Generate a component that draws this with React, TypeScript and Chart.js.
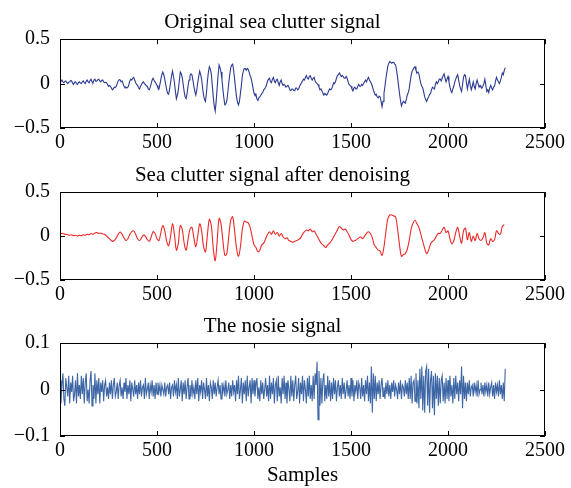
import React, { useEffect, useRef } from "react";
import { Chart, registerables } from "chart.js";

Chart.register(...registerables);

const X_TICKS_MAX = 2500;

const TITLES = [
  "Original sea clutter signal",
  "Sea clutter signal after denoising",
  "The nosie signal",
];
const X_AXIS_LABEL = "Samples";

// original signal, one value every 5 samples
const ORIGINAL = [
  0.02, 0.035, 0.04, 0.02, 0.01, 0.025, 0.03, 0.01, 0.0, 0.015, 0.02, 0.035, 0.03, 0.005, -0.01, 0.015, 0.02, 0.0, -0.01, 0.01,
  0.02, 0.005, 0.0, 0.02, 0.03, 0.01, 0.0, 0.025, 0.04, 0.02, 0.01, 0.035, 0.05, 0.02, 0.01, 0.04, 0.05, 0.025, 0.03, 0.045,
  0.05, 0.03, 0.02, 0.035, 0.04, 0.02, 0.01, 0.015, 0.01, -0.01, -0.03, -0.02, -0.03, -0.05, -0.07, -0.06, -0.04, -0.045, -0.03, 0.0,
  0.03, 0.045, 0.04, 0.02, 0.03, 0.0, -0.03, -0.045, -0.04, -0.05, -0.04, -0.01, 0.03, 0.05, 0.04, 0.06, 0.07, 0.04, 0.01, -0.01,
  -0.02, -0.05, -0.06, -0.03, -0.01, 0.01, 0.02, 0.0, -0.01, -0.025, -0.03, -0.06, -0.07, -0.04, 0.0, 0.04, 0.06, 0.035, 0.02, 0.0,
  -0.02, -0.05, -0.06, -0.01, 0.05, 0.1, 0.13, 0.1, 0.05, -0.01, -0.07, -0.11, -0.12, -0.06, 0.01, 0.09, 0.14, 0.08, 0.01, -0.09,
  -0.17, -0.13, -0.07, 0.03, 0.13, 0.11, 0.07, -0.01, -0.09, -0.15, -0.17, -0.11, -0.03, 0.04, 0.09, 0.11, 0.1, 0.04, -0.03, -0.09,
  -0.13, -0.07, 0.01, 0.08, 0.14, 0.1, 0.05, -0.05, -0.13, -0.18, -0.2, -0.1, 0.03, 0.13, 0.19, 0.16, 0.11, -0.02, -0.15, -0.25,
  -0.31, -0.2, -0.05, 0.1, 0.21, 0.18, 0.13, 0.04, -0.07, -0.17, -0.24, -0.23, -0.19, -0.1, 0.01, 0.1, 0.18, 0.21, 0.22, 0.15,
  0.05, -0.06, -0.15, -0.21, -0.24, -0.2, -0.11, -0.02, 0.09, 0.14, 0.17, 0.17, 0.15, 0.17, 0.16, 0.13, 0.09, 0.06, 0.01, -0.05,
  -0.11, -0.13, -0.12, -0.17, -0.19, -0.16, -0.15, -0.13, -0.11, -0.1, -0.07, -0.06, -0.04, -0.01, 0.03, 0.05, 0.06, 0.02, 0.01, 0.05,
  0.07, 0.03, 0.01, 0.04, 0.05, 0.01, -0.02, 0.02, 0.04, 0.0, -0.02, -0.01, -0.02, -0.04, -0.04, -0.02, -0.04, -0.07, -0.08, -0.06,
  -0.06, -0.08, -0.08, -0.05, -0.05, -0.07, -0.06, -0.03, -0.01, 0.01, 0.03, 0.05, 0.04, 0.07, 0.09, 0.06, 0.05, 0.08, 0.09, 0.06,
  0.04, 0.06, 0.07, 0.03, 0.01, 0.0, -0.01, -0.04, -0.07, -0.06, -0.08, -0.11, -0.13, -0.11, -0.12, -0.13, -0.11, -0.08, -0.06, -0.07,
  -0.06, -0.03, 0.01, 0.0, 0.02, 0.06, 0.09, 0.1, 0.12, 0.1, 0.08, 0.09, 0.08, 0.06, 0.06, 0.08, 0.06, 0.02, -0.01, -0.02,
  -0.03, -0.06, -0.08, -0.05, -0.04, -0.06, -0.06, -0.03, -0.01, -0.03, -0.03, -0.01, -0.02, 0.0, 0.02, 0.04, 0.02, 0.05, 0.07, 0.04,
  0.02, 0.0, -0.03, -0.07, -0.1, -0.13, -0.12, -0.15, -0.16, -0.14, -0.15, -0.2, -0.26, -0.2, -0.11, -0.03, 0.06, 0.13, 0.2, 0.23,
  0.25, 0.24, 0.23, 0.24, 0.24, 0.22, 0.21, 0.15, 0.07, -0.02, -0.11, -0.19, -0.25, -0.22, -0.2, -0.21, -0.22, -0.18, -0.13, -0.1,
  -0.06, 0.02, 0.09, 0.14, 0.16, 0.18, 0.19, 0.15, 0.12, 0.13, 0.11, 0.05, 0.0, -0.03, -0.05, -0.1, -0.15, -0.18, -0.2, -0.17,
  -0.15, -0.12, -0.11, -0.07, -0.04, -0.05, -0.06, -0.01, 0.02, 0.0, 0.02, 0.05, 0.05, 0.03, 0.06, 0.09, 0.11, 0.06, 0.02, 0.05,
  0.08, 0.02, -0.04, -0.08, -0.1, -0.06, -0.03, 0.02, 0.05, 0.08, 0.1, 0.04, -0.02, -0.06, -0.09, -0.01, 0.07, 0.1, 0.09, 0.01,
  -0.06, 0.0, 0.05, -0.02, -0.07, -0.03, 0.02, -0.03, -0.06, 0.0, 0.04, 0.0, -0.04, -0.02, -0.04, -0.05, -0.03, 0.0, 0.05, -0.02,
  -0.09, -0.07, -0.1, -0.05, -0.02, -0.05, -0.07, -0.04, -0.03, 0.03, 0.07, 0.04, 0.02, 0.0, 0.03, 0.07, 0.12, 0.1, 0.15, 0.18,
];

// denoised signal, one value every 10 samples
const DENOISED = [
  0.03, 0.03, 0.025, 0.02, 0.015, 0.01, 0.015, 0.005, 0.01, 0.0,
  0.01, 0.005, 0.015, 0.01, 0.02, 0.015, 0.03, 0.02, 0.035, 0.04,
  0.03, 0.035, 0.025, 0.02, 0.0, -0.02, -0.04, -0.06, -0.05, -0.02,
  0.02, 0.045, 0.02, -0.02, -0.05, -0.03, 0.02, 0.05, 0.06, 0.02,
  -0.03, -0.05, -0.02, 0.01, 0.0, -0.04, -0.06, -0.01, 0.05, 0.03,
  -0.03, -0.05, 0.04, 0.12, 0.06, -0.06, -0.11, 0.0, 0.14, 0.02,
  -0.16, -0.08, 0.12, 0.08, -0.08, -0.16, -0.04, 0.08, 0.1, -0.02,
  -0.12, 0.0, 0.14, 0.06, -0.12, -0.18, 0.02, 0.19, 0.12, -0.14,
  -0.28, -0.06, 0.2, 0.14, -0.06, -0.22, -0.2, 0.0, 0.18, 0.22,
  0.06, -0.14, -0.23, -0.12, 0.08, 0.17, 0.16, 0.15, 0.1, 0.0,
  -0.1, -0.13, -0.18, -0.16, -0.1, -0.08, -0.03, 0.02, 0.05, 0.02,
  0.06, 0.02, 0.04, 0.0, 0.03, -0.01, -0.03, -0.02, -0.05, -0.06,
  -0.07, -0.06, -0.05, -0.04, -0.02, 0.02, 0.05, 0.07, 0.06, 0.08,
  0.05, 0.06, 0.02, -0.02, -0.06, -0.09, -0.11, -0.13, -0.1, -0.08,
  -0.05, -0.01, 0.03, 0.07, 0.11, 0.09, 0.07, 0.08, 0.05, 0.01,
  -0.04, -0.06, -0.05, -0.04, -0.02, -0.01, -0.03, 0.0, 0.03, 0.05,
  0.03, -0.02, -0.1, -0.13, -0.16, -0.17, -0.22, -0.12, 0.05, 0.2,
  0.24, 0.24, 0.23, 0.22, 0.08, -0.1, -0.23, -0.21, -0.2, -0.15,
  -0.05, 0.08, 0.15, 0.18, 0.14, 0.1, 0.02, -0.06, -0.14, -0.2,
  -0.16, -0.09, -0.06, -0.04, 0.0, 0.03, 0.03, 0.07, 0.1, 0.04,
  0.06, -0.03, -0.09, -0.05, 0.04, 0.1, 0.0, -0.08, 0.06, 0.09,
  -0.04, 0.04, -0.06, 0.0, -0.05, 0.03, -0.03, -0.05, -0.02, 0.04,
  -0.08, -0.1, -0.03, -0.06, -0.04, 0.06, 0.03, 0.02, 0.11, 0.13,
];

// noise signal, one value every 5 samples
const NOISE = [
  0.02, -0.03, 0.01, 0.035, -0.02, -0.035, 0.025, 0.005, -0.015, 0.03, -0.03, 0.015, -0.005, 0.03, -0.025, -0.01, 0.02, -0.03, 0.035, -0.015,
  0.01, -0.02, 0.03, -0.01, 0.025, -0.03, 0.015, 0.035, -0.025, 0.0, -0.03, 0.02, 0.04, -0.035, 0.01, -0.02, 0.035, -0.03, 0.02, -0.01,
  0.025, -0.03, 0.015, -0.005, 0.02, -0.025, 0.01, 0.02, -0.015, 0.005, -0.02, 0.015, -0.01, 0.02, -0.02, 0.01, 0.025, -0.015, -0.005, 0.015,
  -0.02, 0.01, 0.02, -0.015, 0.005, -0.02, 0.015, -0.005, 0.025, -0.02, 0.01, -0.01, 0.02, -0.025, 0.015, 0.0, -0.015, 0.02, -0.01, 0.01,
  -0.02, 0.015, -0.01, 0.02, -0.015, 0.005, 0.01, -0.02, 0.025, -0.01, 0.0, 0.015, -0.02, 0.01, -0.005, 0.02, -0.015, 0.01, -0.02, 0.015,
  -0.01, 0.015, -0.005, 0.01, -0.015, 0.01, 0.0, -0.01, 0.015, -0.015, 0.005, 0.01, -0.01, 0.015, -0.02, 0.005, 0.01, -0.015, 0.02, -0.005,
  0.01, -0.02, 0.025, -0.015, 0.0, 0.02, -0.025, 0.015, -0.01, 0.02, -0.02, 0.005, 0.025, -0.02, 0.01, -0.015, 0.02, -0.01, 0.005, -0.02,
  0.02, -0.01, 0.025, -0.025, 0.01, -0.005, 0.02, -0.02, 0.015, 0.0, -0.02, 0.025, -0.015, 0.01, -0.025, 0.015, 0.005, -0.02, 0.02, -0.01,
  0.015, -0.015, 0.005, 0.02, -0.01, 0.01, -0.02, 0.015, -0.005, 0.01, -0.015, 0.02, -0.01, 0.0, 0.015, -0.02, 0.01, -0.015, 0.02, -0.005,
  0.01, -0.025, 0.02, -0.01, 0.03, -0.02, 0.0, 0.025, -0.03, 0.015, -0.01, 0.02, -0.025, 0.03, -0.015, 0.005, 0.02, -0.03, 0.025, -0.01,
  0.02, -0.015, 0.01, 0.025, -0.02, 0.005, -0.025, 0.02, -0.01, 0.015, -0.02, 0.0, 0.025, -0.015, 0.01, -0.025, 0.03, -0.02, 0.015, -0.01,
  0.025, -0.03, 0.01, 0.02, -0.025, 0.03, -0.015, 0.005, -0.03, 0.025, -0.01, 0.03, -0.02, 0.015, -0.03, 0.02, 0.0, -0.025, 0.03, -0.015,
  0.02, -0.025, 0.01, 0.03, -0.02, -0.005, 0.025, -0.03, 0.015, -0.01, 0.03, -0.025, 0.02, 0.0, -0.03, 0.025, -0.015, 0.03, -0.02, 0.01,
  -0.025, 0.03, -0.02, 0.035, 0.01, 0.06, -0.065, 0.04, -0.035, 0.025, -0.03, 0.02, 0.035, -0.025, 0.01, -0.02, 0.03, -0.015, 0.02, -0.025,
  0.015, -0.02, 0.025, -0.01, 0.02, -0.025, 0.005, 0.02, -0.015, 0.01, -0.02, 0.025, -0.01, 0.015, -0.02, 0.0, 0.02, -0.015, 0.01, -0.02,
  0.025, -0.015, 0.02, -0.025, 0.01, -0.005, 0.02, -0.02, 0.015, 0.005, -0.02, 0.025, -0.015, 0.01, -0.025, 0.02, -0.01, 0.03, -0.025, 0.015,
  -0.03, 0.05, -0.05, 0.035, -0.02, 0.03, -0.025, 0.015, -0.01, 0.02, -0.02, 0.01, 0.025, -0.015, 0.005, -0.02, 0.015, -0.01, 0.02, -0.015,
  0.01, -0.02, 0.015, -0.005, 0.02, -0.015, 0.01, 0.0, -0.02, 0.015, -0.01, 0.02, -0.02, 0.01, 0.005, -0.015, 0.02, -0.01, 0.015, -0.02,
  0.025, -0.02, 0.03, -0.03, 0.015, 0.02, -0.025, 0.035, -0.03, 0.02, -0.04, 0.045, -0.02, 0.05, -0.045, 0.03, -0.05, 0.04, 0.05, -0.035,
  0.045, -0.05, 0.02, 0.04, -0.04, 0.03, -0.055, 0.035, -0.02, 0.03, -0.035, 0.025, -0.03, 0.02, 0.03, -0.025, 0.015, -0.03, 0.025, -0.02,
  0.02, -0.025, 0.03, -0.015, 0.01, -0.03, 0.025, -0.02, 0.03, -0.01, 0.015, -0.025, 0.02, -0.01, 0.05, -0.04, 0.03, -0.02, 0.015, -0.025,
  0.015, -0.01, 0.02, -0.015, 0.005, 0.01, -0.015, 0.015, -0.005, 0.01, -0.015, 0.02, -0.01, 0.0, 0.015, -0.01, 0.01, -0.015, 0.015, -0.005,
  0.01, -0.015, 0.015, -0.01, 0.005, 0.015, -0.015, 0.01, -0.02, 0.015, -0.005, 0.01, -0.015, 0.02, -0.01, 0.01, -0.02, 0.015, -0.025, 0.045,
];

const SERIES = [ORIGINAL, DENOISED, NOISE];
const STEPS = [5, 10, 5];
const Y_RANGES = [0.5, 0.5, 0.1];
const Y_STEPS = [0.5, 0.5, 0.1];
const COLORS = ["#2b3a92", "#ec2a2a", "#3d66a6"];

const FONT = "'Liberation Serif', 'Times New Roman', serif";

const framePlugin = {
  id: "frame",
  afterDatasetsDraw(chart: any) {
    const { ctx, chartArea: a, scales } = chart;
    ctx.save();
    ctx.strokeStyle = "#000";
    ctx.lineWidth = 1;
    ctx.strokeRect(Math.round(a.left) + 0.5, Math.round(a.top) + 0.5, Math.round(a.width) - 1, Math.round(a.height) - 1);
    const tl = 5;
    ctx.beginPath();
    scales.x.ticks.forEach((t: any) => {
      const px = Math.round(scales.x.getPixelForValue(t.value)) + 0.5;
      ctx.moveTo(px, a.bottom);
      ctx.lineTo(px, a.bottom - tl);
      ctx.moveTo(px, a.top);
      ctx.lineTo(px, a.top + tl);
    });
    scales.y.ticks.forEach((t: any) => {
      const py = Math.round(scales.y.getPixelForValue(t.value)) + 0.5;
      ctx.moveTo(a.left, py);
      ctx.lineTo(a.left + tl, py);
      ctx.moveTo(a.right, py);
      ctx.lineTo(a.right - tl, py);
    });
    ctx.stroke();
    ctx.restore();
  },
};

function fmt(v: number) {
  const r = Math.round(v * 100) / 100;
  if (r === 0) return "0";
  return (r < 0 ? "\u2212" : "") + String(Math.abs(r));
}

function Panel({ idx, top, height, bottomAxis }: { idx: number; top: number; height: number; bottomAxis: number }) {
  const ref = useRef<HTMLCanvasElement | null>(null);
  useEffect(() => {
    const data = SERIES[idx];
    const step = STEPS[idx];
    const chart = new Chart(ref.current as HTMLCanvasElement, {
      type: "line",
      data: {
        datasets: [
          {
            data: data.map((y, i) => ({ x: i * step, y })),
            borderColor: COLORS[idx],
            borderWidth: 1.1,
            pointRadius: 0,
            tension: idx === 1 ? 0.35 : 0,
            fill: false,
          },
        ],
      },
      options: {
        responsive: false,
        animation: false,
        devicePixelRatio: 1,
        layout: { padding: { left: 0, right: 26, top: 0, bottom: 0 } },
        plugins: {
          legend: { display: false },
          tooltip: { enabled: false },
          title: {
            display: true,
            text: TITLES[idx],
            color: "#000",
            font: { family: FONT, size: 21, weight: "normal" },
            padding: { top: 10, bottom: 4 },
          },
        },
        scales: {
          x: {
            type: "linear",
            min: 0,
            max: X_TICKS_MAX,
            grid: { display: false, drawTicks: false },
            border: { display: false },
            ticks: {
              stepSize: 500,
              color: "#000",
              padding: 3,
              maxRotation: 0,
              font: { family: FONT, size: 20 },
              callback: (v: any) => String(v),
            },
            title: {
              display: idx === 2,
              text: X_AXIS_LABEL,
              color: "#000",
              font: { family: FONT, size: 21 },
              padding: { top: 0, bottom: 0 },
            },
            afterFit: (axis: any) => {
              axis.height = bottomAxis;
            },
          } as any,
          y: {
            min: -Y_RANGES[idx],
            max: Y_RANGES[idx],
            grid: { display: false, drawTicks: false },
            border: { display: false },
            ticks: {
              stepSize: Y_STEPS[idx],
              color: "#000",
              padding: 10,
              font: { family: FONT, size: 20 },
              callback: (v: any) => fmt(Number(v)),
            },
            afterFit: (axis: any) => {
              axis.width = 60;
            },
          } as any,
        },
      },
      plugins: [framePlugin],
    });
    return () => chart.destroy();
  }, [idx, bottomAxis]);
  return (
    <canvas
      ref={ref}
      width={571}
      height={height}
      style={{ position: "absolute", left: 0, top, width: 571, height }}
    />
  );
}

export default function App() {
  return (
    <div style={{ position: "absolute", left: 0, top: 0, width: 571, height: 488, background: "#fff" }}>
      <Panel idx={0} top={0} height={160} bottomAxis={32} />
      <Panel idx={1} top={153} height={159} bottomAxis={32} />
      <Panel idx={2} top={304} height={184} bottomAxis={52} />
    </div>
  );
}
